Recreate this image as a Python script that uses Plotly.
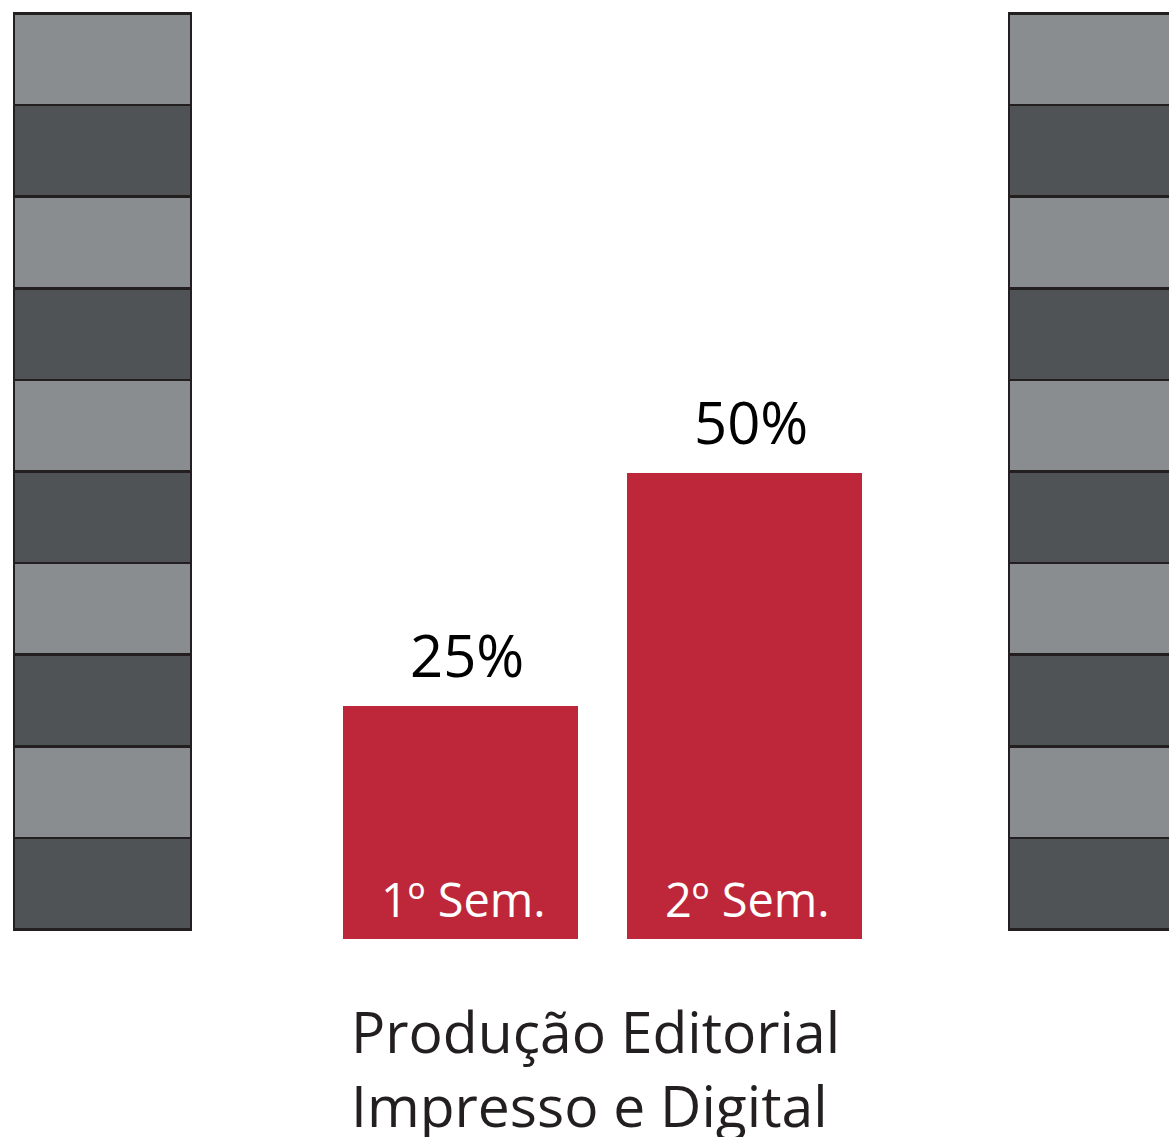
import plotly.graph_objects as go

# ---- data ----
semesters = ["1º Sem.", "2º Sem."]
values = [25, 50]
value_labels = ["25%", "50%"]
title_lines = ["Produção Editorial", "Impresso e Digital"]
# decorative striped columns (10 equal blocks each)
left_blocks = [1] * 10
right_blocks = [1] * 10

RED = "#be2639"
LIGHT = "#898d90"
DARK = "#505356"
EDGE = "#231f20"
FONT = "Open Sans"

W, H = 1169, 1137
fig = go.Figure()

# red bars on main axes
fig.add_trace(go.Bar(
    x=semesters, y=values, width=0.8275,
    marker=dict(color=RED, line=dict(width=0)),
    xaxis="x", yaxis="y", showlegend=False, hoverinfo="skip",
))

# striped columns (stacked) on secondary axes
for side, blocks, xa in (("L", left_blocks, "x2"), ("R", right_blocks, "x3")):
    for i, v in enumerate(blocks):
        col = LIGHT if i % 2 == 1 else DARK
        fig.add_trace(go.Bar(
            x=[0], y=[v], width=1,
            marker=dict(color=col, line=dict(color=EDGE, width=2.5)),
            xaxis=xa, yaxis="y2", showlegend=False, hoverinfo="skip",
        ))

# annotations: values above bars, semester names inside bars
for s, v, lab in zip(semesters, values, value_labels):
    fig.add_annotation(x=s, y=v, xref="x", yref="y", text=lab, showarrow=False,
                       yanchor="bottom", yshift=10, xshift=6,
                       font=dict(family=FONT, size=58, color="#000000"))
    fig.add_annotation(x=s, y=0, xref="x", yref="y", text=s, showarrow=False,
                       yanchor="bottom", yshift=6, xshift=3,
                       font=dict(family=FONT, size=47, color="#ffffff"))

fig.add_annotation(x=595.5 / W, y=1 - 990 / H, xref="paper", yref="paper",
                   text="<br>".join(title_lines), showarrow=False,
                   xanchor="center", yanchor="top", align="left",
                   font=dict(family=FONT, size=57, color=EDGE))

# axis geometry
bar_cat_px = 284.0
x_lo = 460.5 - bar_cat_px / 2
x_hi = x_lo + 2 * bar_cat_px
base_px = 939.0
unit_px = (939.0 - 473.0) / 50.0
y_top_px = 300.0
y_max = (base_px - y_top_px) / unit_px

col_px = 177.0
blk_px = 91.6

hidden = dict(visible=False, showgrid=False, zeroline=False, fixedrange=True)

fig.update_layout(
    width=W, height=H,
    margin=dict(l=0, r=0, t=0, b=0),
    paper_bgcolor="white", plot_bgcolor="rgba(0,0,0,0)",
    barmode="stack", showlegend=False,
    xaxis=dict(hidden, domain=[x_lo / W, x_hi / W], range=[-0.5, 1.5],
               type="category", anchor="y"),
    yaxis=dict(hidden, domain=[1 - base_px / H, 1 - y_top_px / H],
               range=[0, y_max], anchor="x"),
    xaxis2=dict(hidden, domain=[0, 0.2],
                range=[-0.5 - 14 / col_px, -0.5 - 14 / col_px + 0.2 * W / col_px],
                anchor="y2"),
    xaxis3=dict(hidden, domain=[0.8, 1.0],
                range=[-0.5 - (1009 - 0.8 * W) / col_px,
                       -0.5 - (1009 - 0.8 * W) / col_px + 0.2 * W / col_px],
                anchor="y2"),
    yaxis2=dict(hidden, domain=[0, 1],
                range=[-(H - 929.5) / blk_px, -(H - 929.5) / blk_px + H / blk_px],
                anchor="x2"),
)

fig.write_html("out.html", config={"displayModeBar": False},
               post_script="document.body.style.margin='0';document.body.style.overflow='hidden';")
